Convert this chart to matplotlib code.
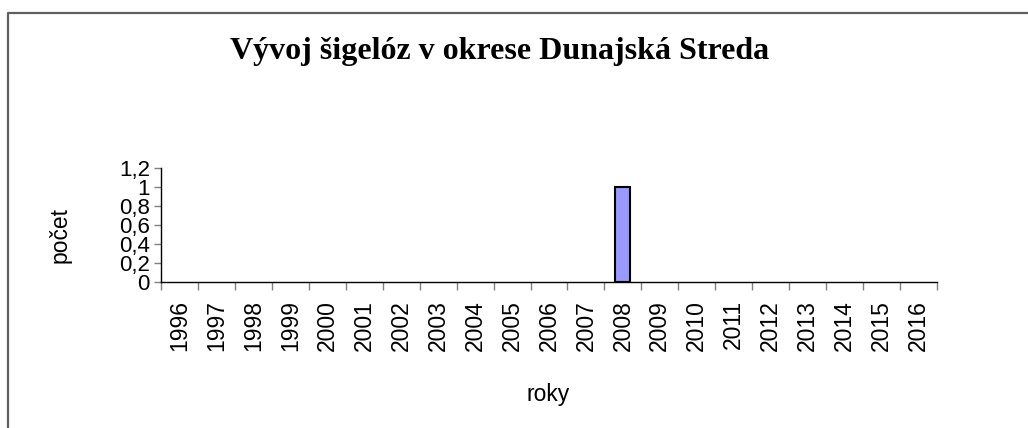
import matplotlib
matplotlib.use("Agg")
import matplotlib.pyplot as plt
from matplotlib.lines import Line2D
from matplotlib.ticker import FixedLocator, FixedFormatter

years = [str(y) for y in range(1996, 2017)]
counts = [0, 0, 0, 0, 0, 0, 0, 0, 0, 0, 0, 0, 1, 0, 0, 0, 0, 0, 0, 0, 0]
yticks = [0, 0.2, 0.4, 0.6, 0.8, 1.0, 1.2]
ytick_labels = ["0", "0,2", "0,4", "0,6", "0,8", "1", "1,2"]
title = "Vývoj šigelóz v okrese Dunajská Streda"

W, H = 1028, 428
fig = plt.figure(figsize=(W / 100, H / 100), dpi=100)
fig.patch.set_facecolor("white")

# outer frame (only top and left edges visible)
fig.lines.append(Line2D([8 / W, 8 / W, 1.0], [0.0, 1 - 13 / H, 1 - 13 / H], transform=fig.transFigure,
                        color="#606060", linewidth=1.6, zorder=0))

ax = fig.add_axes([161 / W, 1 - 282 / H, (937 - 161) / W, (282 - 168) / H])
x = list(range(len(years)))
lws = [1.5 if c > 0 else 0 for c in counts]
ax.bar(x, counts, width=0.41, color="#9999FF", edgecolor="black", linewidth=lws, zorder=3)

ax.set_xlim(-0.5, len(years) - 0.5)
ax.set_ylim(0, 1.2)
for s in ["top", "right"]:
    ax.spines[s].set_visible(False)
for s in ["left", "bottom"]:
    ax.spines[s].set_color("black")
    ax.spines[s].set_linewidth(1.0)
    ax.spines[s].set_zorder(4)

ax.yaxis.set_major_locator(FixedLocator(yticks))
ax.yaxis.set_major_formatter(FixedFormatter(ytick_labels))
ax.tick_params(axis="y", direction="out", length=5, width=1, color="#808080",
               labelsize=16, pad=3)
for lab in ax.get_yticklabels():
    lab.set_fontfamily("Liberation Sans")

ax.set_xticks(x)
ax.set_xticklabels(years, rotation=90, fontsize=16.5, fontfamily="Liberation Sans")
ax.tick_params(axis="x", which="major", length=0, pad=13)
ax.set_xticks([i - 0.5 for i in range(len(years) + 1)], minor=True)
ax.tick_params(axis="x", which="minor", direction="out", length=6, width=1, color="#808080")

fig.text(500 / W, 1 - 52 / H, title, ha="center", va="center", fontsize=23,
         fontweight="bold", fontfamily="Liberation Serif")
fig.text(60 / W, 1 - 235 / H, "počet", ha="center", va="center", rotation=90,
         fontsize=16.5, fontfamily="Liberation Sans")
fig.text(548 / W, 1 - 394 / H, "roky", ha="center", va="center",
         fontsize=16.5, fontfamily="Liberation Sans")

fig.savefig("out.png", dpi=100)
